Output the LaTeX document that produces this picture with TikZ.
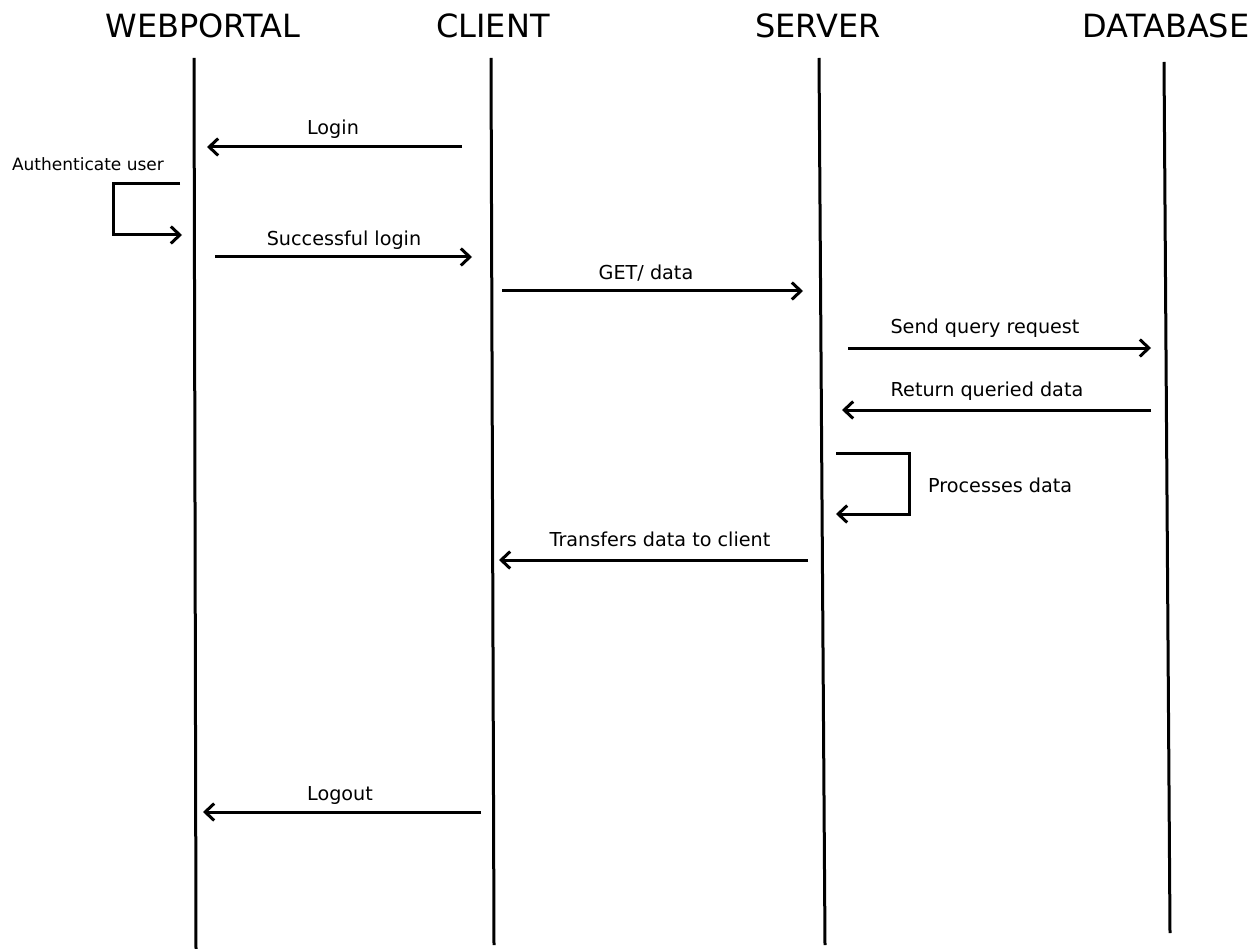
\documentclass[tikz,border=0pt]{standalone}
\usepackage{fontspec}
\setmainfont{DejaVu Sans}
\usetikzlibrary{arrows.meta}
\tikzset{
  head/.style={font=\fontsize{32}{36}\selectfont, inner sep=0pt, anchor=center},
  life/.style={line width=3pt, black},
  msg/.style={line width=3pt, -{Straight Barb[length=9pt, width=17pt, line width=3pt]}},
  lbl/.style={font=\fontsize{19.2}{23}\selectfont, inner sep=0pt, anchor=center},
  small/.style={font=\fontsize{17}{20}\selectfont, inner sep=0pt, anchor=center}
}
\begin{document}
\begin{tikzpicture}[x=1pt, y=-1pt]
\useasboundingbox (0,0) rectangle (1260,949);

% participant headings
\node[head] (wp) at (203,26) {WEBPORTAL};
\node[head] (cl) at (493,26) {CLIENT};
\node[head] (sv) at (818,26) {SERVER};
\node[head] (db) at (1166,26) {DATABASE};

% lifelines
\coordinate (wpT) at (194,58);  \coordinate (wpB) at (196,949);
\coordinate (clT) at (491,58);  \coordinate (clB) at (494,945);
\coordinate (svT) at (819,58);  \coordinate (svB) at (825,945);
\coordinate (dbT) at (1164,62); \coordinate (dbB) at (1170,933);
\draw[life] (wpT) -- (wpB);
\draw[life] (clT) -- (clB);
\draw[life] (svT) -- (svB);
\draw[life] (dbT) -- (dbB);

% Login
\coordinate (m1s) at (462,147); \coordinate (m1e) at (207,147);
\draw[msg] (m1s) -- (m1e);
\node[lbl] (l1) at (333,129) {Login};

% Authenticate user (self call on the web portal)
\node[small] (l2) at (88,164) {Authenticate user};
\coordinate (a1) at (180,184); \coordinate (a2) at (113,184);
\coordinate (a3) at (113,235); \coordinate (a4) at (182,235);
\draw[msg] (a1) -- (a2) -- (a3) -- (a4);

% Successful login
\coordinate (m3s) at (215,257); \coordinate (m3e) at (472,257);
\draw[msg] (m3s) -- (m3e);
\node[lbl] (l3) at (344,240) {Successful login};

% GET/ data
\coordinate (m4s) at (502,291); \coordinate (m4e) at (803,291);
\draw[msg] (m4s) -- (m4e);
\node[lbl] (l4) at (646,273) {GET/ data};

% Send query request
\coordinate (m5s) at (848,348); \coordinate (m5e) at (1151,348);
\draw[msg] (m5s) -- (m5e);
\node[lbl] (l5) at (985,328) {Send query request};

% Return queried data
\coordinate (m6s) at (1151,410); \coordinate (m6e) at (842,410);
\draw[msg] (m6s) -- (m6e);
\node[lbl] (l6) at (987,391) {Return queried data};

% Processes data (self call on the server)
\coordinate (p1) at (836,453); \coordinate (p2) at (909,453);
\coordinate (p3) at (909,514); \coordinate (p4) at (836,514);
\draw[msg] (p1) -- (p2) -- (p3) -- (p4);
\node[lbl, anchor=west] (l7) at (928,485) {Processes data};

% Transfers data to client
\coordinate (m8s) at (808,560); \coordinate (m8e) at (499,560);
\draw[msg] (m8s) -- (m8e);
\node[lbl] (l8) at (660,539) {Transfers data to client};

% Logout
\coordinate (m9s) at (481,812); \coordinate (m9e) at (203,812);
\draw[msg] (m9s) -- (m9e);
\node[lbl] (l9) at (340,795) {Logout};
\end{tikzpicture}
\end{document}
